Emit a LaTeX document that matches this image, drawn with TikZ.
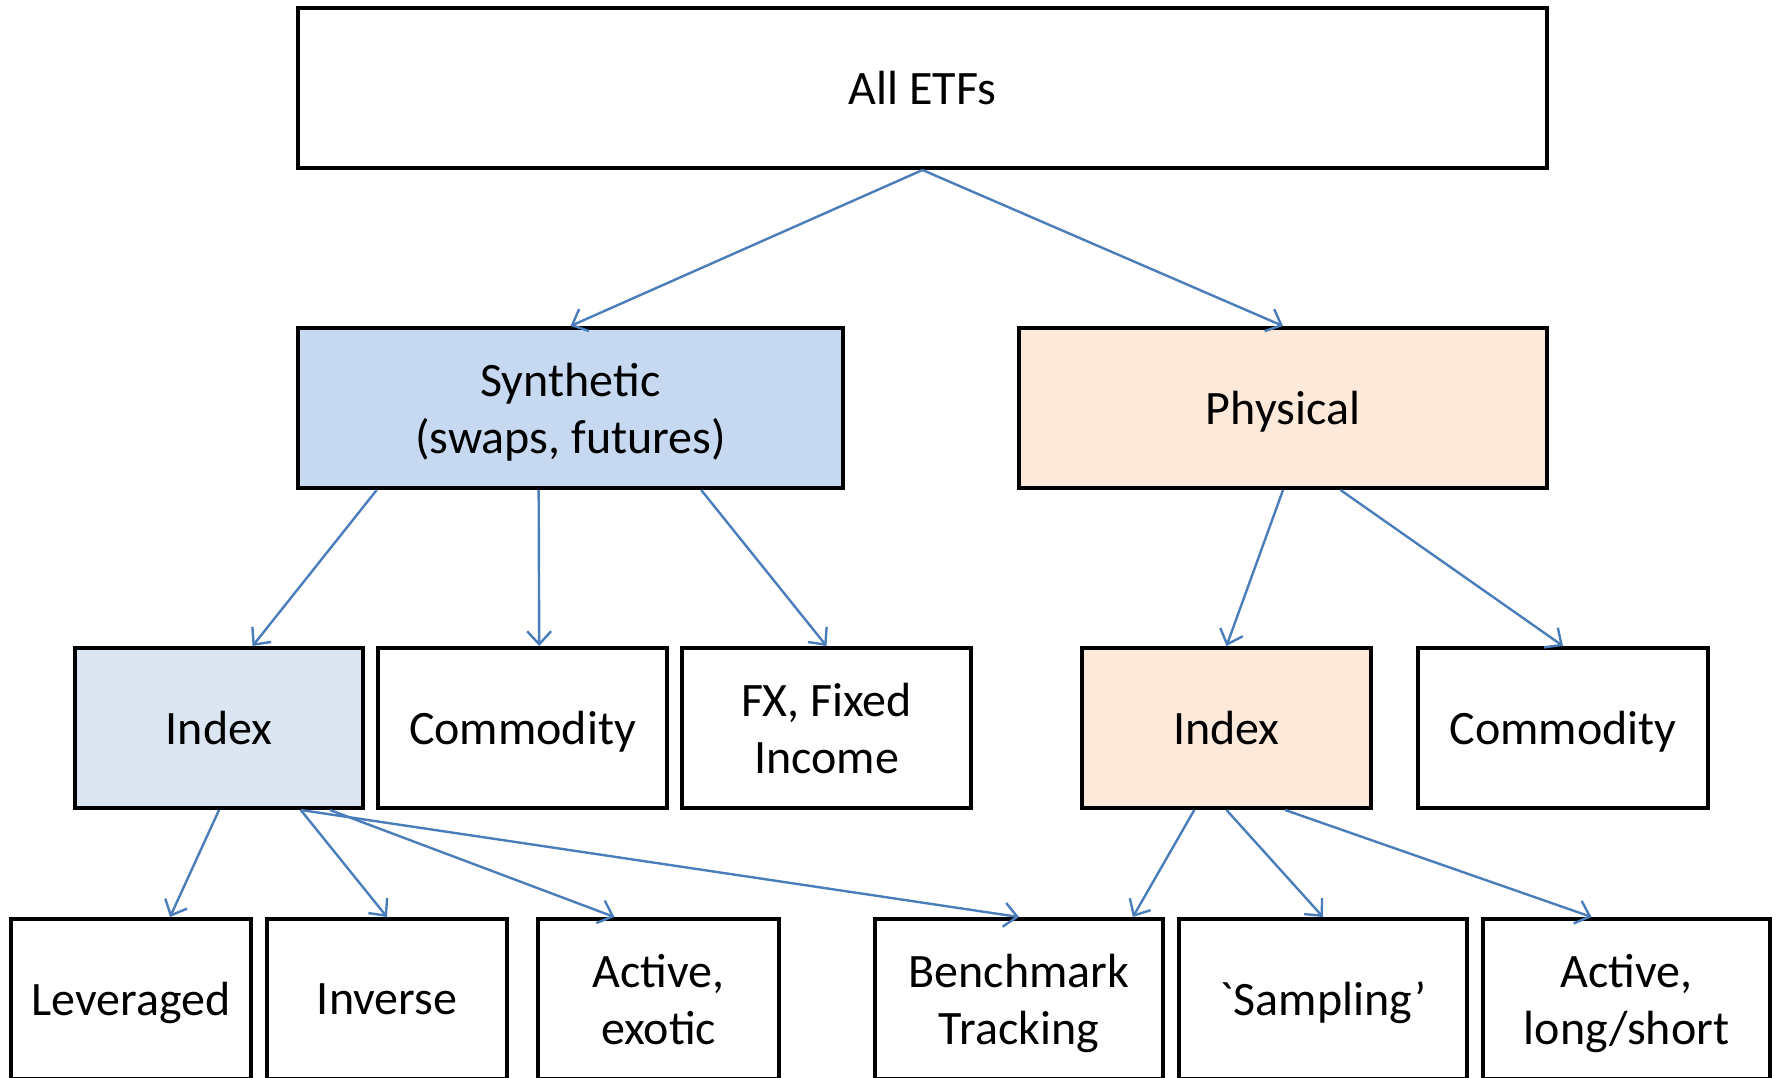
\documentclass[tikz,border=0pt]{standalone}
\usepackage{fontspec}
\setmainfont{Carlito}
\usetikzlibrary{arrows.meta,calc}
\definecolor{linkblue}{HTML}{4A7EBB}
\definecolor{synfill}{HTML}{C6D9F1}
\definecolor{idxfill}{HTML}{DCE6F2}
\definecolor{phyfill}{HTML}{FDE9D9}
\begin{document}
\begin{tikzpicture}[x=1pt,y=-1pt,
  box/.style={draw=black, line width=4pt, inner sep=0pt, align=center,
    minimum height=160pt, text depth=0pt, font=\fontsize{48}{57}\selectfont},
  link/.style={draw=linkblue, line width=2.4pt,
    -{Straight Barb[length=13pt,width=24pt]}}]
\useasboundingbox (0,0) rectangle (1779,1077);
\clip (0,0) rectangle (1779,1077);

% top level
\node[box, minimum width=1249pt] (all) at (922.5,88) {All ETFs};

% replication method
\node[box, fill=synfill, minimum width=545pt] (syn) at (570.5,408) {Synthetic\\(swaps, futures)};
\node[box, fill=phyfill, minimum width=528pt] (phy) at (1283,408) {Physical};

% asset classes
\node[box, fill=idxfill, minimum width=288pt] (idxs) at (219,728) {Index};
\node[box, minimum width=289pt] (coms) at (522.5,728) {Commodity};
\node[box, minimum width=289pt] (fx) at (826.5,728) {FX, Fixed\\Income};
\node[box, fill=phyfill, minimum width=289pt] (idxp) at (1226.5,728) {Index};
\node[box, minimum width=290pt] (comp) at (1563,728) {Commodity};

% strategies
\node[box, minimum width=240pt] (lev) at (131,999) {Leveraged};
\node[box, minimum width=240pt] (inv) at (387,999) {Inverse};
\node[box, minimum width=241pt] (exo) at (658.5,999) {Active,\\exotic};
\node[box, minimum width=288pt] (ben) at (1019,999) {Benchmark\\Tracking};
\node[box, minimum width=288pt] (sam) at (1323,999) {\textasciigrave Sampling’};
\node[box, minimum width=287pt] (als) at (1626.5,999) {Active,\\long/short};

% connectors
\draw[link] (all.south) -- (syn.north);
\draw[link] (all.south) -- (phy.north);

\draw[link] ($(syn.south west)!0.147!(syn.south east)$) -- ($(idxs.north west)!0.615!(idxs.north east)$);
\draw[link] ($(syn.south west)!0.442!(syn.south east)$) -- ($(coms.north west)!0.557!(coms.north east)$);
\draw[link] ($(syn.south west)!0.738!(syn.south east)$) -- (fx.north);

\draw[link] (phy.south) -- (idxp.north);
\draw[link] ($(phy.south west)!0.608!(phy.south east)$) -- (comp.north);

\draw[link] (idxs.south) -- ($(lev.north west)!0.66!(lev.north east)$);
\draw[link] ($(idxs.south west)!0.78!(idxs.south east)$) -- (inv.north);
\draw[link] ($(idxs.south west)!0.88!(idxs.south east)$) -- ($(exo.north west)!0.32!(exo.north east)$);
\draw[link] ($(idxs.south west)!0.78!(idxs.south east)$) -- (ben.north);

\draw[link] ($(idxp.south west)!0.39!(idxp.south east)$) -- ($(ben.north west)!0.89!(ben.north east)$);
\draw[link] (idxp.south) -- (sam.north);
\draw[link] ($(idxp.south west)!0.70!(idxp.south east)$) -- ($(als.north west)!0.38!(als.north east)$);
\end{tikzpicture}
\end{document}
